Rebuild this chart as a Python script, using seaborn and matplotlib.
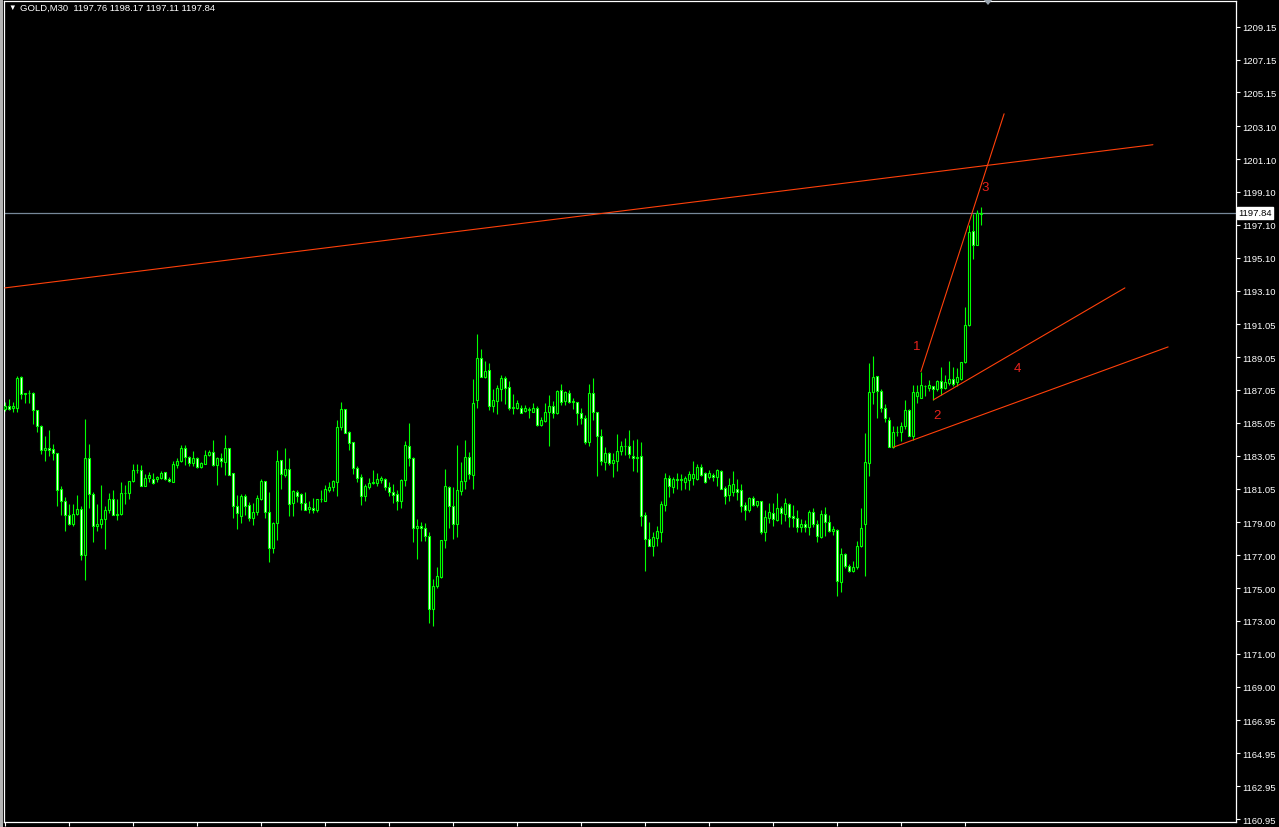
import numpy as np
import pandas as pd
import matplotlib
matplotlib.use("Agg")
import matplotlib.pyplot as plt
import seaborn as sns
from matplotlib.transforms import blended_transform_factory
from matplotlib.patches import Rectangle, Polygon

# ---------------- data (GOLD, M30) ----------------
symbol = "GOLD,M30"

opens = [
    1185.90, 1186.07, 1185.97, 1185.97, 1187.83, 1186.80, 1186.84, 1186.88, 1185.83, 1184.85,
    1183.43, 1183.53, 1183.47, 1183.21, 1181.04, 1180.29, 1179.42, 1178.87, 1179.52, 1179.82,
    1177.04, 1182.90, 1180.71, 1178.75, 1178.87, 1179.19, 1179.72, 1180.43, 1179.42, 1179.48,
    1180.77, 1180.79, 1181.50, 1182.19, 1182.19, 1181.24, 1181.69, 1181.65, 1181.65, 1181.67,
    1182.05, 1181.61, 1181.48, 1182.46, 1182.72, 1183.53, 1182.96, 1182.62, 1182.92, 1182.34,
    1182.56, 1183.07, 1183.27, 1182.46, 1182.92, 1182.66, 1183.53, 1181.99, 1180.00, 1179.40,
    1180.61, 1180.06, 1179.25, 1179.65, 1180.43, 1181.50, 1179.65, 1177.42, 1178.94, 1182.78,
    1181.85, 1182.25, 1180.18, 1180.83, 1180.73, 1180.16, 1179.82, 1179.86, 1179.72, 1180.40,
    1180.32, 1180.97, 1181.12, 1181.44, 1184.81, 1185.90, 1184.48, 1183.87, 1182.29, 1181.78,
    1180.63, 1181.14, 1181.40, 1181.40, 1181.60, 1181.64, 1181.14, 1180.85, 1180.75, 1180.28,
    1181.60, 1183.63, 1182.92, 1178.68, 1178.78, 1178.68, 1178.19, 1173.73, 1175.15, 1175.68,
    1177.91, 1181.16, 1179.98, 1178.92, 1180.93, 1181.50, 1182.96, 1181.85, 1186.47, 1189.00,
    1187.87, 1188.28, 1186.10, 1186.41, 1187.12, 1187.77, 1187.22, 1185.97, 1185.97, 1185.97,
    1185.76, 1185.83, 1185.74, 1185.95, 1184.95, 1185.16, 1185.72, 1186.09, 1185.64, 1187.04,
    1186.37, 1186.88, 1186.35, 1186.31, 1185.66, 1185.34, 1183.88, 1186.86, 1185.70, 1184.24,
    1182.70, 1183.21, 1182.58, 1182.76, 1183.33, 1183.63, 1183.63, 1183.03, 1182.90, 1183.03,
    1179.46, 1178.00, 1177.55, 1178.04, 1178.40, 1180.04, 1181.71, 1181.14, 1181.65, 1181.59,
    1181.44, 1181.59, 1181.69, 1181.65, 1182.36, 1181.99, 1181.73, 1181.85, 1181.75, 1182.11,
    1181.10, 1180.69, 1180.87, 1181.00, 1180.97, 1180.06, 1179.72, 1180.47, 1180.08, 1180.28,
    1178.40, 1179.27, 1179.55, 1179.17, 1179.86, 1179.51, 1180.12, 1179.37, 1179.27, 1178.70,
    1178.90, 1178.70, 1179.61, 1178.90, 1178.09, 1179.51, 1179.05, 1178.50, 1178.54, 1175.40,
    1177.08, 1176.33, 1176.06, 1176.27, 1177.54, 1178.88, 1182.60, 1186.92, 1187.89, 1186.98,
    1185.94, 1185.23, 1183.61, 1184.48, 1184.48, 1184.89, 1185.84, 1184.28, 1186.67, 1186.57,
    1187.32, 1187.20, 1187.28, 1187.08, 1187.59, 1187.20, 1187.48, 1187.69, 1187.56, 1187.73,
    1188.74, 1191.03, 1196.71, 1195.90, 1197.76,
]
highs = [
    1186.31, 1186.51, 1186.31, 1187.93, 1187.93, 1186.88, 1187.06, 1186.92, 1185.83, 1184.93,
    1184.28, 1184.63, 1183.78, 1183.21, 1181.20, 1180.57, 1180.12, 1180.12, 1180.67, 1179.98,
    1185.30, 1183.78, 1180.83, 1180.12, 1181.28, 1180.00, 1180.77, 1180.98, 1180.43, 1181.46,
    1181.26, 1181.50, 1182.56, 1182.54, 1182.50, 1181.93, 1182.05, 1182.01, 1181.83, 1182.13,
    1182.09, 1181.75, 1182.76, 1182.90, 1183.72, 1183.70, 1183.03, 1183.31, 1182.96, 1182.66,
    1183.41, 1183.41, 1183.98, 1182.96, 1183.21, 1184.32, 1183.53, 1181.99, 1180.67, 1180.73,
    1180.73, 1180.22, 1180.18, 1180.67, 1181.64, 1181.54, 1180.83, 1179.05, 1183.41, 1182.82,
    1183.53, 1182.90, 1180.95, 1180.95, 1180.81, 1180.83, 1180.32, 1180.51, 1180.42, 1180.95,
    1181.26, 1181.44, 1181.60, 1185.23, 1186.35, 1185.90, 1184.56, 1183.87, 1182.45, 1181.91,
    1181.32, 1181.70, 1182.19, 1181.99, 1181.82, 1181.70, 1181.44, 1181.34, 1180.95, 1181.64,
    1183.95, 1185.05, 1182.96, 1179.21, 1179.05, 1178.96, 1178.40, 1175.56, 1176.29, 1177.95,
    1182.25, 1181.22, 1181.12, 1183.71, 1182.66, 1184.02, 1183.29, 1187.73, 1190.47, 1189.55,
    1188.82, 1188.68, 1187.12, 1187.37, 1187.97, 1187.89, 1187.59, 1186.82, 1186.45, 1186.11,
    1186.15, 1186.03, 1186.25, 1186.09, 1185.40, 1186.27, 1186.72, 1186.41, 1187.06, 1187.43,
    1186.96, 1187.06, 1186.55, 1186.35, 1185.95, 1185.54, 1187.43, 1187.79, 1185.74, 1184.65,
    1183.57, 1183.27, 1183.23, 1184.38, 1183.94, 1184.14, 1184.63, 1183.98, 1184.08, 1183.88,
    1179.62, 1179.01, 1178.40, 1178.77, 1180.27, 1182.01, 1181.89, 1181.75, 1181.99, 1181.95,
    1181.81, 1182.13, 1182.74, 1182.56, 1182.52, 1182.05, 1182.19, 1182.01, 1182.26, 1182.19,
    1181.20, 1181.71, 1182.13, 1181.65, 1181.34, 1180.22, 1180.53, 1180.63, 1180.32, 1180.32,
    1179.72, 1180.18, 1180.18, 1180.79, 1180.02, 1180.49, 1180.18, 1180.06, 1179.72, 1179.21,
    1179.17, 1179.72, 1179.86, 1179.15, 1179.72, 1179.92, 1179.45, 1178.80, 1178.60, 1177.42,
    1177.14, 1176.47, 1176.67, 1177.89, 1179.88, 1184.44, 1188.70, 1189.13, 1187.93, 1187.12,
    1186.21, 1185.39, 1184.89, 1184.89, 1185.13, 1186.45, 1185.90, 1187.36, 1187.38, 1188.17,
    1187.38, 1187.63, 1187.32, 1187.63, 1188.44, 1187.97, 1188.84, 1188.44, 1188.38, 1188.78,
    1192.09, 1197.10, 1197.77, 1198.01, 1198.17,
]
lows = [
    1185.76, 1185.81, 1185.74, 1185.74, 1186.51, 1186.27, 1186.25, 1184.99, 1184.49, 1183.17,
    1182.76, 1183.03, 1182.82, 1180.02, 1179.42, 1178.50, 1178.81, 1178.77, 1179.42, 1176.68,
    1175.52, 1179.90, 1177.79, 1178.50, 1178.64, 1177.35, 1179.58, 1179.42, 1179.17, 1179.42,
    1180.14, 1180.39, 1181.48, 1181.99, 1181.18, 1181.20, 1181.44, 1181.34, 1181.48, 1181.61,
    1181.57, 1181.44, 1181.44, 1182.32, 1182.66, 1182.48, 1182.42, 1182.42, 1182.32, 1182.32,
    1182.56, 1183.03, 1182.42, 1181.30, 1182.34, 1181.89, 1181.85, 1179.27, 1178.60, 1178.95,
    1179.42, 1179.11, 1178.84, 1179.47, 1180.38, 1179.29, 1176.61, 1177.14, 1177.95, 1181.03,
    1181.78, 1179.41, 1179.41, 1180.22, 1179.72, 1179.72, 1179.57, 1179.57, 1179.61, 1180.26,
    1180.32, 1180.87, 1180.91, 1180.63, 1184.62, 1184.46, 1183.43, 1181.95, 1181.44, 1180.08,
    1180.32, 1181.00, 1181.34, 1181.20, 1181.40, 1180.95, 1180.59, 1180.20, 1179.78, 1179.90,
    1181.24, 1182.45, 1177.83, 1176.77, 1177.89, 1177.87, 1172.88, 1172.72, 1175.03, 1175.64,
    1177.46, 1178.66, 1177.99, 1178.13, 1180.69, 1181.03, 1181.64, 1181.03, 1185.98, 1187.83,
    1187.79, 1185.84, 1185.74, 1185.60, 1186.37, 1186.21, 1185.85, 1185.56, 1185.87, 1185.64,
    1185.70, 1185.36, 1185.70, 1184.85, 1184.83, 1185.10, 1183.67, 1185.36, 1185.56, 1186.11,
    1186.11, 1186.25, 1185.91, 1184.95, 1184.99, 1183.74, 1183.67, 1185.20, 1181.79, 1182.46,
    1182.21, 1182.50, 1181.73, 1182.15, 1183.11, 1183.11, 1182.90, 1182.15, 1182.09, 1178.75,
    1176.03, 1177.53, 1176.98, 1177.59, 1177.83, 1179.66, 1180.53, 1180.80, 1181.00, 1180.94,
    1181.00, 1180.94, 1181.28, 1181.59, 1181.81, 1181.40, 1181.65, 1181.52, 1181.20, 1181.00,
    1180.12, 1180.27, 1180.59, 1180.37, 1179.65, 1179.17, 1179.61, 1179.98, 1179.92, 1178.29,
    1177.89, 1178.96, 1178.80, 1179.11, 1178.90, 1179.11, 1178.70, 1178.70, 1178.40, 1178.40,
    1178.44, 1178.23, 1178.70, 1177.83, 1178.03, 1178.19, 1178.40, 1178.23, 1174.54, 1174.79,
    1176.23, 1176.00, 1176.00, 1176.17, 1177.48, 1175.76, 1181.84, 1186.17, 1185.37, 1185.70,
    1185.13, 1183.61, 1183.53, 1184.24, 1183.97, 1184.68, 1184.24, 1184.03, 1186.27, 1186.57,
    1186.67, 1186.98, 1186.47, 1186.96, 1186.75, 1187.12, 1187.38, 1187.32, 1187.32, 1187.63,
    1188.68, 1190.97, 1194.99, 1195.90, 1197.11,
]
closes = [
    1186.05, 1185.87, 1186.09, 1187.77, 1186.78, 1186.84, 1186.88, 1185.81, 1184.89, 1183.43,
    1183.53, 1183.37, 1183.19, 1180.99, 1180.27, 1179.42, 1178.87, 1179.48, 1179.82, 1177.04,
    1182.90, 1180.71, 1178.75, 1178.91, 1179.19, 1179.74, 1180.43, 1179.42, 1179.52, 1180.77,
    1180.81, 1181.50, 1182.19, 1182.21, 1181.24, 1181.69, 1181.89, 1181.38, 1181.75, 1181.99,
    1181.61, 1181.50, 1182.54, 1182.74, 1183.53, 1182.96, 1182.62, 1182.92, 1182.34, 1182.60,
    1183.09, 1183.27, 1182.46, 1182.92, 1182.72, 1183.53, 1181.89, 1180.02, 1179.56, 1180.61,
    1180.02, 1179.25, 1179.65, 1180.47, 1181.50, 1179.65, 1177.42, 1178.96, 1182.72, 1181.91,
    1182.25, 1180.12, 1180.91, 1180.63, 1180.16, 1179.72, 1179.92, 1179.76, 1180.40, 1180.42,
    1181.01, 1181.16, 1181.52, 1184.81, 1185.90, 1184.46, 1183.85, 1182.29, 1181.72, 1180.63,
    1181.22, 1181.40, 1181.46, 1181.64, 1181.70, 1181.12, 1180.85, 1180.69, 1180.32, 1181.58,
    1183.71, 1182.90, 1178.68, 1178.78, 1178.68, 1178.19, 1173.73, 1175.15, 1175.72, 1177.91,
    1181.20, 1179.98, 1178.92, 1180.95, 1181.50, 1182.96, 1181.91, 1186.27, 1189.00, 1187.87,
    1188.21, 1186.10, 1186.47, 1187.18, 1187.77, 1187.18, 1185.97, 1186.03, 1186.25, 1185.68,
    1185.95, 1185.89, 1185.95, 1184.93, 1185.24, 1185.72, 1186.09, 1185.68, 1186.98, 1186.35,
    1186.92, 1186.31, 1186.39, 1185.64, 1185.34, 1183.88, 1186.86, 1185.70, 1184.24, 1182.72,
    1183.21, 1182.62, 1182.78, 1183.33, 1183.63, 1183.66, 1183.13, 1182.90, 1182.98, 1179.38,
    1177.96, 1177.55, 1178.10, 1178.46, 1180.12, 1181.69, 1181.24, 1181.63, 1181.59, 1181.65,
    1181.71, 1181.93, 1181.93, 1182.36, 1181.85, 1181.44, 1182.03, 1181.75, 1182.19, 1181.00,
    1180.63, 1181.26, 1181.34, 1180.87, 1180.02, 1179.72, 1180.47, 1180.06, 1180.28, 1178.44,
    1179.31, 1179.61, 1179.21, 1179.90, 1179.55, 1180.16, 1179.31, 1179.27, 1178.70, 1178.90,
    1178.70, 1179.61, 1178.90, 1178.15, 1179.51, 1179.05, 1178.50, 1178.60, 1175.46, 1177.08,
    1176.37, 1176.06, 1176.27, 1177.54, 1178.64, 1182.66, 1186.92, 1187.83, 1186.98, 1185.94,
    1185.33, 1183.61, 1184.48, 1184.52, 1184.89, 1185.84, 1184.28, 1186.92, 1186.92, 1187.36,
    1187.28, 1187.36, 1187.08, 1187.59, 1187.20, 1187.52, 1187.73, 1187.42, 1187.83, 1188.74,
    1191.01, 1196.65, 1195.90, 1197.81, 1197.84,
]

# trend lines drawn on the chart: (bar index, price) end points
trend_names  = ["resistance", "wave", "channel_upper", "channel_lower"]
trend_bar0   = [-0.1, 228.9, 232.0, 222.0]
trend_price0 = [1193.26, 1188.17, 1186.45, 1183.57]
trend_bar1   = [286.9, 249.7, 279.9, 290.7]
trend_price1 = [1201.97, 1203.85, 1193.26, 1189.67]

# wave labels
wave_labels = ["1", "2", "3", "4"]
wave_bars   = [227.9, 232.9, 244.9, 252.9]
wave_prices = [1189.73, 1185.53, 1199.41, 1188.40]

# price axis tick labels
price_tick_labels = [
    "1160.95", "1162.95", "1164.95", "1166.95", "1169.00", "1171.00", "1173.00", "1175.00",
    "1177.00", "1179.00", "1181.05", "1183.05", "1185.05", "1187.05", "1189.05", "1191.05",
    "1193.10", "1195.10", "1197.10", "1199.10", "1201.10", "1203.10", "1205.15", "1207.15",
    "1209.15",
]

# ---------------- styling ----------------
sns.set_theme(style="ticks", rc={
    "axes.facecolor": "black",
    "figure.facecolor": "black",
    "axes.grid": False,
    "axes.edgecolor": "white",
})
plt.rcParams["font.family"] = ["Liberation Sans", "DejaVu Sans"]

W, H = 1279, 828
fig = plt.figure(figsize=(W / 100, H / 100), dpi=100, facecolor="black")
left_px, right_px, top_px, bot_px = 4.0, 1235.5, 1.7, 822.7
ax = fig.add_axes([left_px / W, (H - bot_px) / H, (right_px - left_px) / W, (bot_px - top_px) / H])
ax.set_facecolor("black")

df = pd.DataFrame({"open": opens, "high": highs, "low": lows, "close": closes})
df["bar"] = np.arange(len(df))
bull = df["close"] >= df["open"]

GREEN = "#00ff00"
# wicks
ax.vlines(df["bar"], df[["low", "open", "close"]].min(axis=1), df[["high", "open", "close"]].max(axis=1),
          color=GREEN, lw=0.8, zorder=2)
# bodies: bull hollow (black), bear filled (white)
for mask, face in [(bull, "black"), (~bull, "white")]:
    sub = df[mask]
    lo = sub[["open", "close"]].min(axis=1)
    hi = sub[["open", "close"]].max(axis=1)
    ax.bar(sub["bar"], hi - lo, bottom=lo, width=0.55, facecolor=face, edgecolor=GREEN,
           linewidth=0.8, zorder=3)

# trend lines via seaborn
rows = []
for n, b0, p0, b1, p1 in zip(trend_names, trend_bar0, trend_price0, trend_bar1, trend_price1):
    rows.append({"line": n, "bar": b0, "price": p0})
    rows.append({"line": n, "bar": b1, "price": p1})
tdf = pd.DataFrame(rows)
sns.lineplot(data=tdf, x="bar", y="price", units="line", estimator=None, color="#ff400a",
             lw=0.8, ax=ax, legend=False, zorder=4)

# wave labels
for lab, b, p in zip(wave_labels, wave_bars, wave_prices):
    ax.text(b, p, lab, color="#e8221c", fontsize=9.5, ha="center", va="center", zorder=5)

# bid line
last = closes[-1]
ax.axhline(last, color="#778899", lw=0.9, zorder=1)

# axes limits (bar spacing 4 px)
ax.set_xlim((left_px - 5.3) / 4.0, (right_px - 5.3) / 4.0)
ax.set_ylim(1160.79, 1210.73)

# ticks
ax.yaxis.tick_right()
yt = [float(s) for s in price_tick_labels]
ax.set_yticks(yt)
ax.set_yticklabels(price_tick_labels)
ax.set_xticks(np.arange(0, len(df), 16))
ax.set_xticklabels([])
ax.tick_params(axis="y", colors="white", labelcolor="white", length=3, width=0.8, pad=2.2,
               labelsize=6.8, direction="out", left=False, right=True)
ax.tick_params(axis="x", colors="white", length=3, width=0.8, direction="out")
ax.set_xlabel("")
ax.set_ylabel("")
for s in ax.spines.values():
    s.set_color("white")
    s.set_linewidth(0.9)
    s.set_visible(True)

# current price box on the price scale
tr = blended_transform_factory(ax.transAxes, ax.transData)
ax.text(1.0021, last, f"{last:.2f}", transform=tr, color="black", fontsize=6.8, ha="left",
        va="center", bbox=dict(boxstyle="square,pad=0.15", fc="white", ec="white"), zorder=6,
        clip_on=False)

# header
fig.text(8 / W, 1 - 8.5 / H, "▼", color="white", fontsize=5.5, ha="left", va="center")
fig.text(20 / W, 1 - 8.5 / H,
         f"{symbol}  {opens[-1]:.2f} {highs[-1]:.2f} {lows[-1]:.2f} {closes[-1]:.2f}",
         color="white", fontsize=6.8, ha="left", va="center")

# window edge and chart-shift marker
fig.patches.append(Rectangle((0, 0), 3 / W, 1, transform=fig.transFigure, facecolor="#b4b4b4",
                             edgecolor="none"))
fig.patches.append(Polygon([(983 / W, 1), (993 / W, 1), (988 / W, 1 - 6 / H)], closed=True,
                           transform=fig.transFigure, facecolor="#9aa4ae", edgecolor="none"))

fig.savefig("out.png", dpi=100, facecolor="black")
